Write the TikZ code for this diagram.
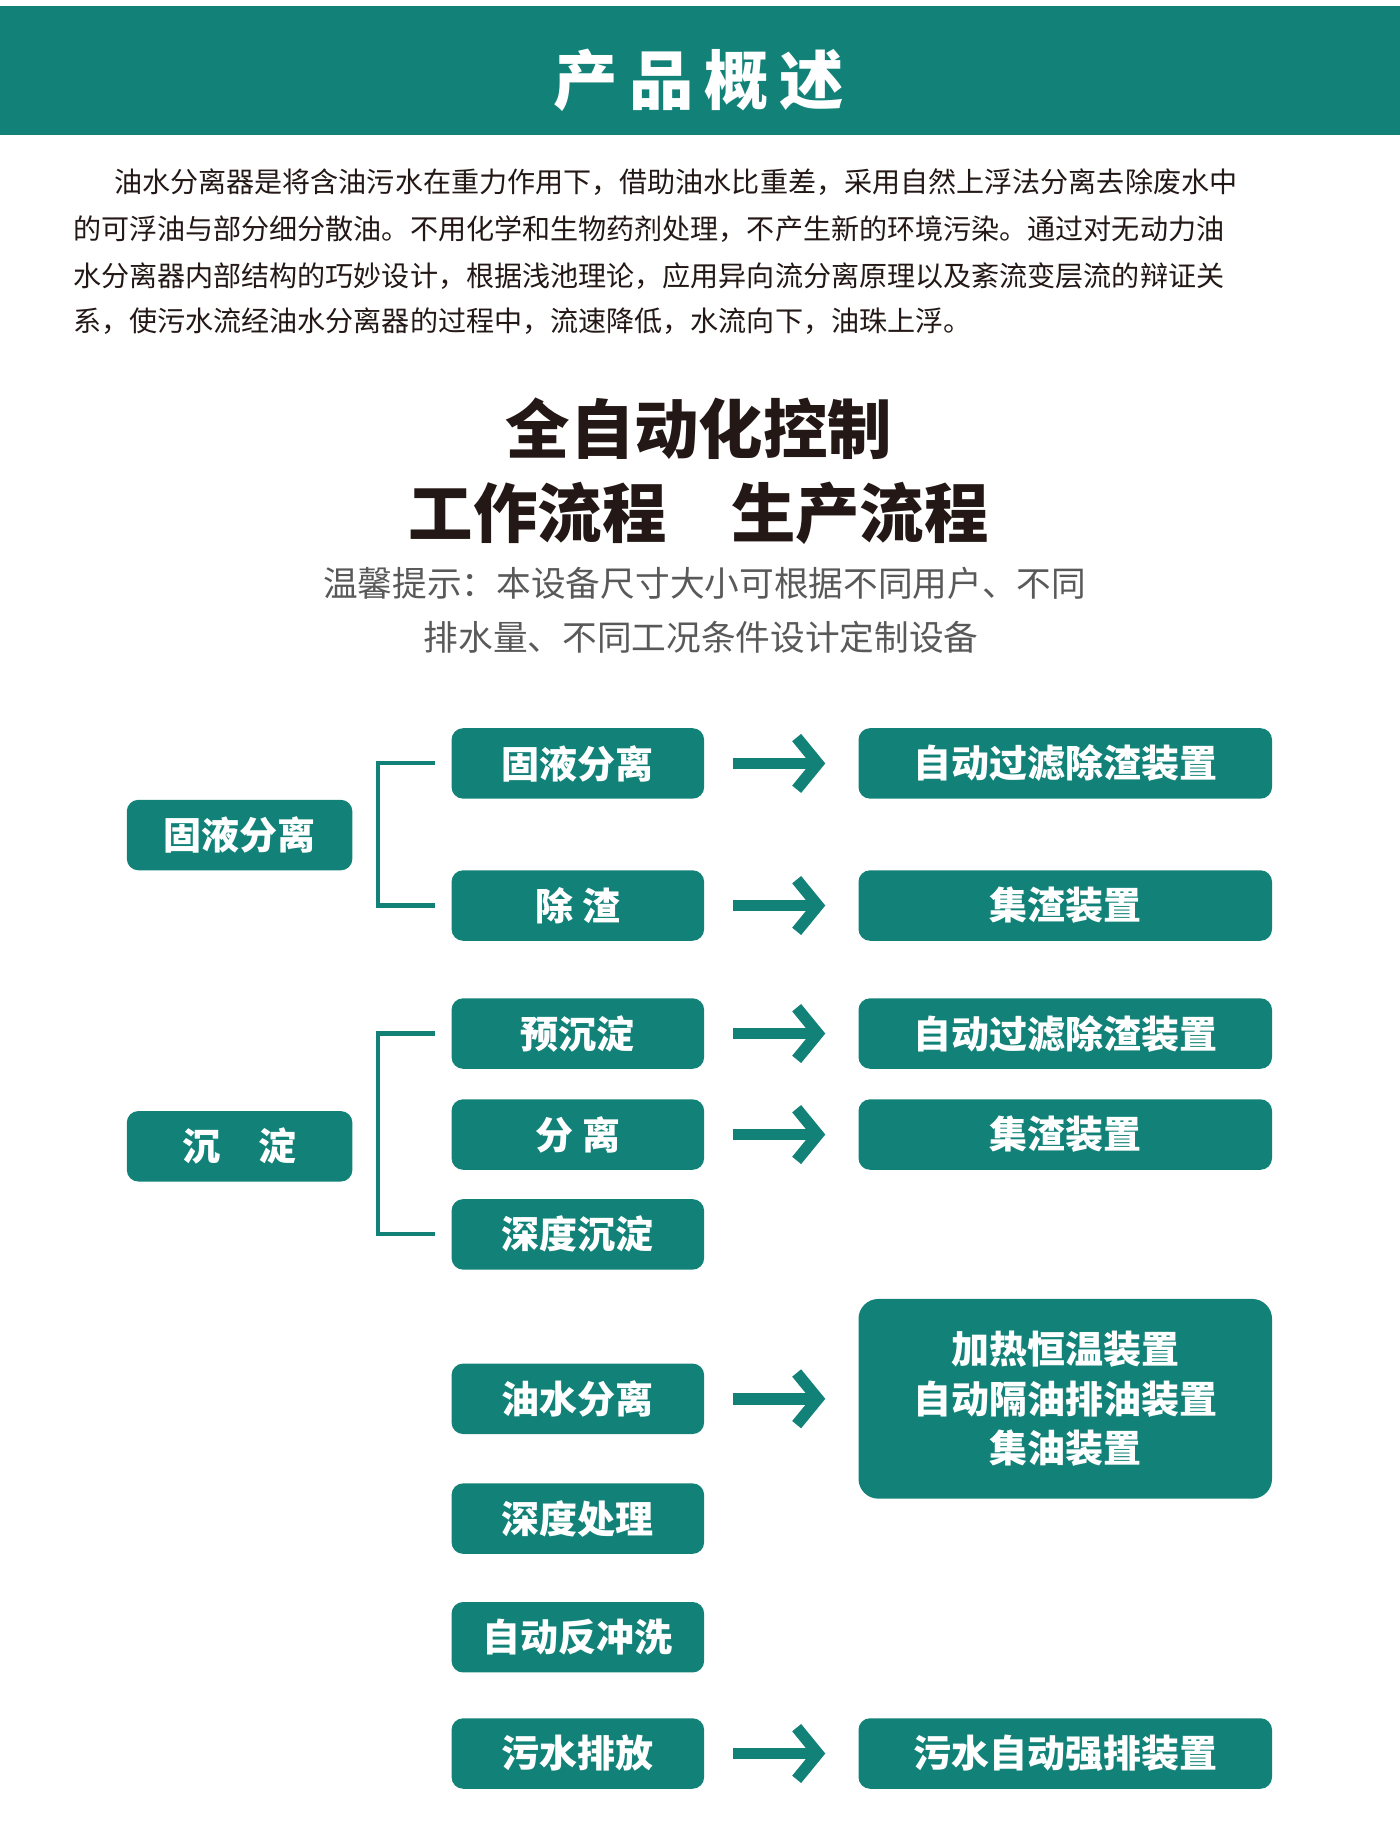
\documentclass[tikz,border=0pt]{standalone}
\usepackage{fontspec}
\setmainfont{Noto Sans CJK SC}
\usetikzlibrary{positioning,arrows.meta}
\definecolor{teal1}{HTML}{128279}
\definecolor{dark1}{HTML}{231815}
\tikzset{
  every picture/.style={/utils/exec={\rmfamily}},
  leftbox/.style={fill=teal1, rounded corners=7pt, text=white, font=\fontsize{23}{26}\selectfont\bfseries,
    minimum width=4.8cm, minimum height=1.5cm, inner sep=0pt},
  midbox/.style={leftbox, minimum width=5.375cm},
  rightbox/.style={leftbox, minimum width=8.8cm, align=center},
  goarrow/.style={draw=teal1, line width=7pt, -{Straight Barb[length=4.5mm, width=11mm]}},
  bracket/.style={draw=teal1, line width=2.5pt}
}
\begin{document}
\begin{tikzpicture}[x=0.025cm, y=-0.025cm]
  \useasboundingbox (0,0) rectangle (1192,1567.5);
  % header
  \fill[teal1] (0,5) rectangle (1192,115);
  \node[text=white, font=\fontsize{39}{42}\selectfont\bfseries] (title) at (595,68) {产\,品\,概\,述};
  % intro
  \begin{scope}[every node/.style={anchor=west, inner sep=0pt, font=\fontsize{17}{20}\selectfont, text=dark1}]
    \node (p1) at (97,155) {油水分离器是将含油污水在重力作用下，借助油水比重差，采用自然上浮法分离去除废水中};
    \node (p2) at (62,195) {的可浮油与部分细分散油。不用化学和生物药剂处理，不产生新的环境污染。通过对无动力油};
    \node (p3) at (62,235) {水分离器内部结构的巧妙设计，根据浅池理论，应用异向流分离原理以及紊流变层流的辩证关};
    \node (p4) at (62,273) {系，使污水流经油水分离器的过程中，流速降低，水流向下，油珠上浮。};
  \end{scope}
  % headings
  \node[text=dark1, font=\fontsize{39}{42}\selectfont\bfseries] (h1) at (595,365) {全自动化控制};
  \node[text=dark1, font=\fontsize{39}{42}\selectfont\bfseries] (h2) at (595,437) {工作流程\quad 生产流程};
  \node[text=black!65, font=\fontsize{21}{24}\selectfont] (tip1) at (600,497) {温馨提示：本设备尺寸大小可根据不同用户、不同};
  \node[text=black!65, font=\fontsize{21}{24}\selectfont] (tip2) at (597,543) {排水量、不同工况条件设计定制设备};
  % left column
  \node[leftbox] (gy) at (204,711) {固液分离};
  \node[leftbox] (cd) at (204,976) {沉\quad 淀};
  % middle column
  \node[midbox] (m1) at (492,650) {固液分离};
  \node[midbox] (m2) at (492,771) {除\ 渣};
  \node[midbox] (m3) at (492,880) {预沉淀};
  \node[midbox] (m4) at (492,966) {分\ 离};
  \node[midbox] (m5) at (492,1051) {深度沉淀};
  \node[midbox] (m6) at (492,1191) {油水分离};
  \node[midbox] (m7) at (492,1293) {深度处理};
  \node[midbox] (m8) at (492,1394) {自动反冲洗};
  \node[midbox] (m9) at (492,1493) {污水排放};
  % right column
  \node[rightbox] (r1) at (907,650) {自动过滤除渣装置};
  \node[rightbox] (r2) at (907,771) {集渣装置};
  \node[rightbox] (r3) at (907,880) {自动过滤除渣装置};
  \node[rightbox] (r4) at (907,966) {集渣装置};
  \node[rightbox, minimum height=4.25cm, rounded corners=12pt, font=\fontsize{23}{30}\selectfont\bfseries] (r6) at (907,1191) {加热恒温装置\\自动隔油排油装置\\集油装置};
  \node[rightbox] (r9) at (907,1493) {污水自动强排装置};
  % brackets
  \draw[bracket] ([xshift=-0.35cm]m1.west) -| ([xshift=-1.55cm]m1.west) |- ([xshift=-0.35cm]m2.west);
  \draw[bracket] ([xshift=-0.35cm]m3.west) -| ([xshift=-1.55cm]m3.west) |- ([xshift=-0.35cm]m5.west);
  % arrows
  \foreach \a/\b in {m1/r1, m2/r2, m3/r3, m4/r4, m6/r6, m9/r9}
    \draw[goarrow] ([xshift=0.6cm]\a.east) -- ([xshift=-0.7cm]\a.east -| \b.west);
\end{tikzpicture}
\end{document}
